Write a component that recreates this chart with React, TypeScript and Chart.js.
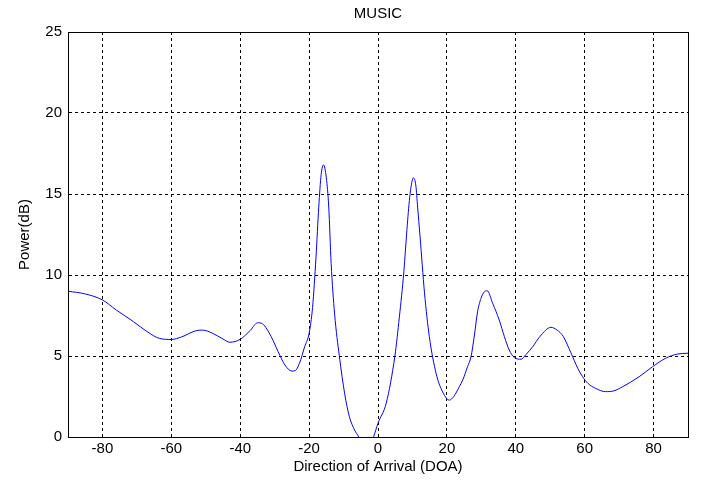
import React, { useEffect, useRef } from "react";
import { Chart, registerables } from "chart.js";

Chart.register(...registerables);

const doaDegrees: number[] = [
  -90, -85, -80, -76, -71, -67, -63.5, -60, -57, -53, -51, -48, -45, -43, -40, -37, -35, -33.5,
  -31, -29, -27, -25, -24, -22.8, -21.3, -20, -19, -18, -17.2, -16.5, -15.8, -15, -14.3, -13.6,
  -12.6, -11.2, -9.7, -8.3, -6.8, -5.6, -4, -2.5, -1.3, 0, 2.4, 4.9, 6.2, 7.5, 8.4, 9.2, 9.9, 10.3,
  11, 11.5, 12.2, 13.5, 14.9, 16.9, 18.5, 20.7, 22, 23.6, 24.6, 26, 27, 28, 28.9, 29.9, 30.9,
  31.7, 33.3, 35.2, 36.7, 38.1, 39.6, 41.5, 43, 44.9, 47, 50.2, 52, 53.8, 56, 58, 59.4, 61,
  63.2, 66.1, 68.5, 71, 75.8, 79.7, 83.5, 86.9, 90,
];

const powerDb: number[] = [
  9.0, 8.83, 8.46, 7.84, 7.12, 6.5, 6.09, 6.02, 6.18, 6.55, 6.6, 6.4, 6.05, 5.85, 6.03, 6.6, 7.05, 6.98,
  6.19, 5.27, 4.44, 4.07, 4.1, 4.55, 5.57, 6.4, 8.0, 11.1, 14.2, 16.2, 16.8, 16.0, 14.2, 10.7,
  7.6, 4.96, 2.7, 1.25, 0.43, 0.0, -0.9, -0.6, 0.0, 0.85, 2.1, 5.0, 7.4, 10.2, 12.8, 14.8, 15.8, 16.0,
  15.5, 14.2, 12.4, 8.9, 6.2, 3.9, 2.9, 2.28, 2.5, 3.1, 3.52, 4.34, 4.96, 6.3, 7.73, 8.56, 8.97,
  9.03, 8.25, 7.22, 6.19, 5.37, 4.9, 4.8, 5.1, 5.57, 6.2, 6.77, 6.6, 6.2, 5.2, 4.24, 3.72, 3.3,
  3.0, 2.8, 2.85, 3.1, 3.72, 4.34, 4.86, 5.12, 5.17,
];

const xTickValues: number[] = [-80, -60, -40, -20, 0, 20, 40, 60, 80];
const yTickValues: number[] = [0, 5, 10, 15, 20, 25];

const titleText = "MUSIC";
const xAxisTitle = "Direction of Arrival (DOA)";
const yAxisTitle = "Power(dB)";

const FONT_FAMILY = "Arial, 'Liberation Sans', Helvetica, sans-serif";
const FONT_SIZE = 15;

export default function App() {
  const canvasRef = useRef<HTMLCanvasElement | null>(null);

  useEffect(() => {
    const canvas = canvasRef.current;
    if (!canvas) return;

    const boxPlugin = {
      id: "boxAndTitle",
      afterDraw(chart: any) {
        const { ctx, chartArea } = chart;
        ctx.save();
        ctx.strokeStyle = "#000";
        ctx.lineWidth = 1;
        ctx.setLineDash([]);
        ctx.strokeRect(
          Math.round(chartArea.left) + 0.5,
          Math.round(chartArea.top) + 0.5,
          Math.round(chartArea.right - chartArea.left),
          Math.round(chartArea.bottom - chartArea.top)
        );
        ctx.fillStyle = "#000";
        ctx.font = `${FONT_SIZE}px ${FONT_FAMILY}`;
        ctx.textAlign = "center";
        ctx.textBaseline = "middle";
        ctx.fillText(titleText, (chartArea.left + chartArea.right) / 2, 14);
        ctx.restore();
      },
    };

    const chart = new Chart(canvas, {
      type: "line",
      data: {
        datasets: [
          {
            data: doaDegrees.map((x, i) => ({ x, y: powerDb[i] })),
            borderColor: "#0000ff",
            borderWidth: 1,
            pointRadius: 0,
            fill: false,
            cubicInterpolationMode: "monotone",
          },
        ],
      },
      options: {
        responsive: false,
        animation: false,
        layout: { padding: { top: 32, right: 16, left: 0, bottom: 0 } },
        plugins: {
          legend: { display: false },
          tooltip: { enabled: false },
        },
        scales: {
          x: {
            type: "linear",
            min: -90,
            max: 90,
            afterBuildTicks: (scale: any) => {
              scale.ticks = xTickValues.map((v) => ({ value: v }));
            },
            afterFit: (scale: any) => {
              scale.height = 44;
            },
            ticks: {
              color: "#000",
              font: { family: FONT_FAMILY, size: FONT_SIZE },
              padding: 3,
              maxRotation: 0,
            },
            grid: { color: "#000", drawTicks: false, lineWidth: 1 },
            border: { display: true, color: "#000", dash: [3, 3] },
            title: {
              display: true,
              text: xAxisTitle,
              color: "#000",
              font: { family: FONT_FAMILY, size: FONT_SIZE },
              padding: { top: 0, bottom: 5 },
            },
          },
          y: {
            type: "linear",
            min: 0,
            max: 25,
            afterBuildTicks: (scale: any) => {
              scale.ticks = yTickValues.map((v) => ({ value: v }));
            },
            afterFit: (scale: any) => {
              scale.width = 68;
            },
            ticks: {
              color: "#000",
              font: { family: FONT_FAMILY, size: FONT_SIZE },
              padding: 6,
            },
            grid: { color: "#000", drawTicks: false, lineWidth: 1 },
            border: { display: true, color: "#000", dash: [3, 3] },
            title: {
              display: true,
              text: yAxisTitle,
              color: "#000",
              font: { family: FONT_FAMILY, size: FONT_SIZE },
              padding: { top: 16, bottom: 0 },
            },
          },
        },
      },
      plugins: [boxPlugin],
    } as any);

    return () => chart.destroy();
  }, []);

  return (
    <div style={{ position: "fixed", left: 0, top: 0, width: 704, height: 481, background: "#fff" }}>
      <canvas ref={canvasRef} width={704} height={481} />
    </div>
  );
}
